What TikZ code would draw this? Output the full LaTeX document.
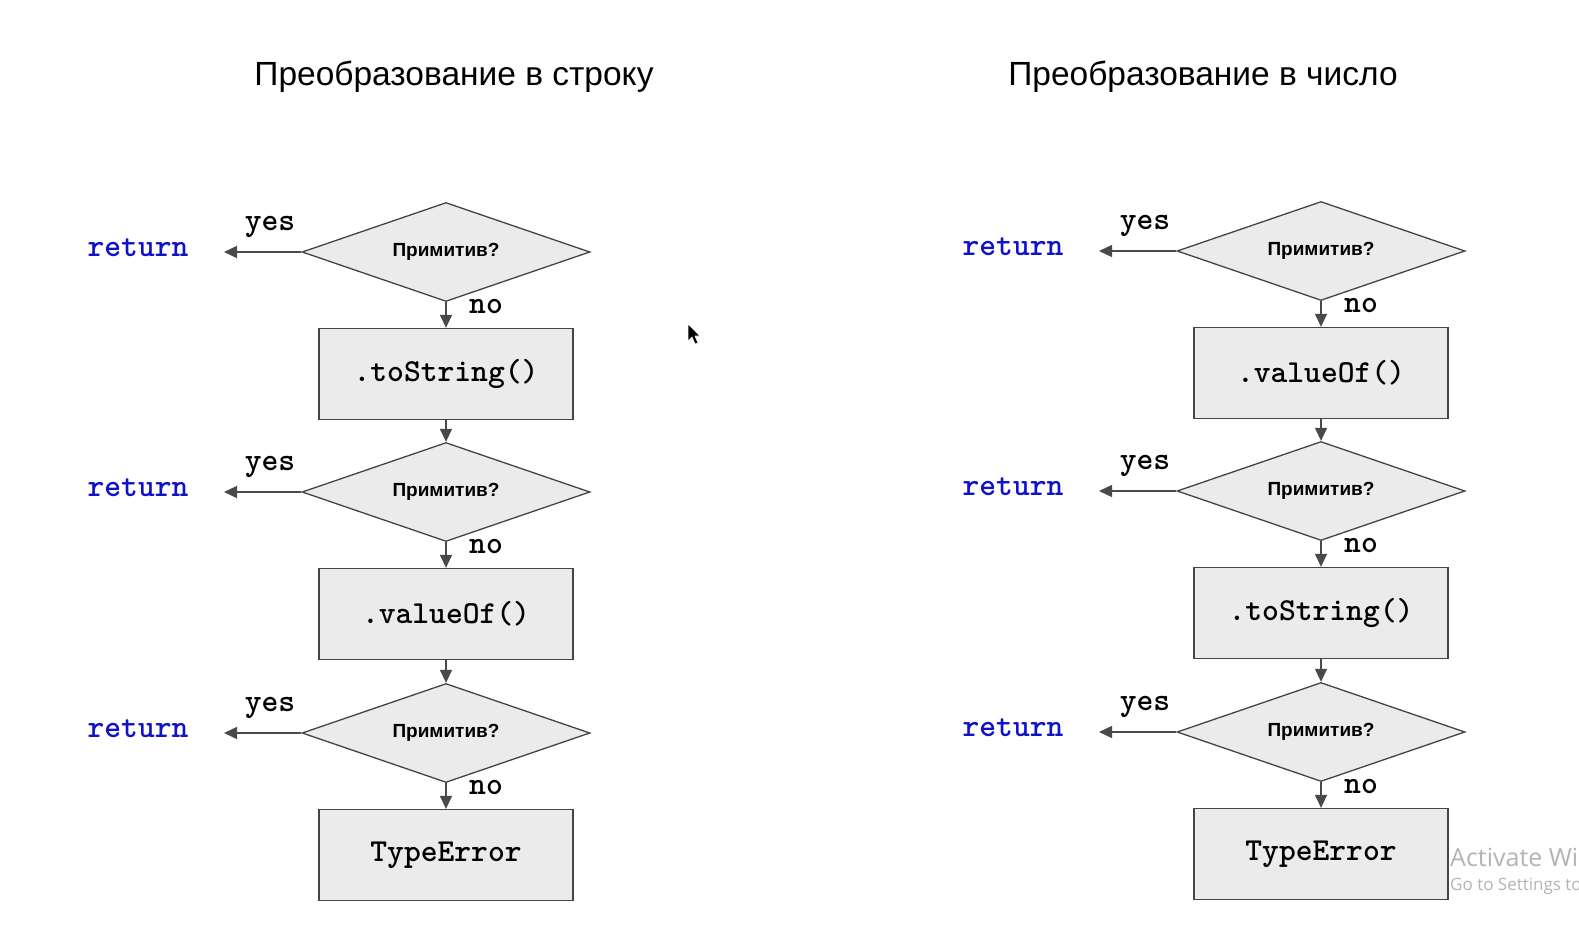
\documentclass[tikz,border=0pt]{standalone}
\usepackage{fontspec}
\setmainfont{Liberation Sans}
\newfontfamily\wmfont{Open Sans}
\newcommand\courb{\ttfamily\bfseries}
\usetikzlibrary{shapes.geometric,arrows.meta}
\definecolor{boxfill}{HTML}{EBEBEB}
\definecolor{boxline}{HTML}{444444}
\definecolor{arrowcol}{HTML}{4A4A4A}
\definecolor{retblue}{HTML}{1111C8}
\definecolor{wmgray}{HTML}{B4B4B4}
\begin{document}
\begin{tikzpicture}[x=1pt,y=-1pt,
  decision/.style={diamond, aspect=2.9, draw=boxline, line width=1.3pt, fill=boxfill, minimum width=288pt, minimum height=99pt, inner sep=0pt, font=\fontsize{19}{19}\selectfont\bfseries},
  stepbox/.style={rectangle, draw=boxline, line width=1.3pt, fill=boxfill, minimum width=254pt, minimum height=91pt, inner sep=0pt, font=\fontsize{32}{32}\selectfont\courb},
  codelbl/.style={font=\fontsize{32}{32}\selectfont\courb},
  retlbl/.style={font=\fontsize{32}{32}\selectfont\courb, text=retblue},
  titlelbl/.style={font=\fontsize{33.5}{33.5}\selectfont},
  conn/.style={draw=arrowcol, line width=1.4pt, -{Triangle[length=13pt,width=12pt]}}
]
\useasboundingbox[fill=white] (0,0) rectangle (1579,931);

\node[titlelbl] (t1) at (454,77) {Преобразование в строку};
\node[titlelbl] (t2) at (1203,77) {Преобразование в число};

\foreach \c/\cx/\dy/\fa/\fb in {L/446/0/.toString()/.valueOf(), R/1321/-1/.valueOf()/.toString()}{
  \node[decision] (d1\c) at (\cx,252+\dy) {Примитив?};
  \node[stepbox] (b1\c) at (\cx,374+\dy) {\fa};
  \node[decision] (d2\c) at (\cx,492+\dy) {Примитив?};
  \node[stepbox] (b2\c) at (\cx,614+\dy) {\fb};
  \node[decision] (d3\c) at (\cx,733+\dy) {Примитив?};
  \node[stepbox] (b3\c) at (\cx,855+\dy) {TypeError};
  \foreach \i/\y in {1/252,2/492,3/733}{
    \coordinate (e\i\c) at (\cx-222,\y+\dy);
    \node[retlbl] (r\i\c) at (\cx-308,\y+\dy-4) {return};
    \node[codelbl] (y\i\c) at (\cx-176,\y+\dy-25) {yes};
    \node[codelbl] (n\i\c) at (\cx+40,\y+\dy+54) {no};
    \draw[conn] (d\i\c.west) -- (e\i\c);
    \draw[conn] (d\i\c.south) -- (b\i\c.north);
  }
  \draw[conn] (b1\c.south) -- (d2\c.north);
  \draw[conn] (b2\c.south) -- (d3\c.north);
}

\node[anchor=west, text=wmgray, font=\wmfont\fontsize{25}{25}\selectfont, inner sep=0pt] (wm1) at (1450,857) {Activate Windows};
\node[anchor=west, text=wmgray, font=\wmfont\fontsize{17}{17}\selectfont, inner sep=0pt] (wm2) at (1450,886) {Go to Settings to activate Windows.};

\fill[black, draw=white, line width=0.6pt] (688,324) -- (688,341) -- (692,337) -- (695,344) -- (698,343) -- (695,336) -- (700,336) -- cycle;
\end{tikzpicture}
\end{document}
